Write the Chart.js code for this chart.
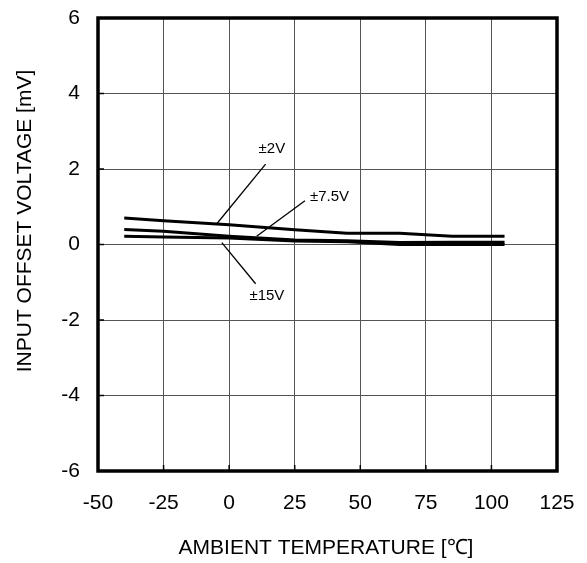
<!DOCTYPE html>
<html>
<head>
<meta charset="utf-8">
<script src="https://cdn.jsdelivr.net/npm/chart.js@4"></script>
<style>
  html, body { margin: 0; padding: 0; background: #fff; }
  canvas { display: block; }
</style>
</head>
<body>
<canvas id="c" width="587" height="563"></canvas>
<script>
// Data
const temperatures = [-40, -25, 0, 25, 45, 65, 85, 105];
const v2  = [0.70, 0.63, 0.52, 0.39, 0.30, 0.30, 0.22, 0.22];
const v75 = [0.40, 0.35, 0.22, 0.12, 0.10, 0.05, 0.06, 0.06];
const v15 = [0.22, 0.20, 0.17, 0.09, 0.07, 0.00, 0.00, 0.00];
const seriesNames = ['±2V', '±7.5V', '±15V'];
const xTicks = [-50, -25, 0, 25, 50, 75, 100, 125];
const yTicks = [-6, -4, -2, 0, 2, 4, 6];
const xTitle = 'AMBIENT TEMPERATURE [℃]';
const yTitle = 'INPUT OFFSET VOLTAGE [mV]';

// Callout labels in data units
const calloutText = ['±2V', '±7.5V', '±15V'];
const calloutTextX = [16.3, 30.8, 14.4];
const calloutTextY = [2.54, 1.27, -1.35];
const leaderX1 = [-4.7, 10.5, -2.8];
const leaderY1 = [0.55, 0.22, 0.05];
const leaderX2 = [13.9, 28.9, 10.1];
const leaderY2 = [2.13, 1.16, -1.04];
const calloutAlign = ['center', 'left', 'center'];

const FONT = '"Liberation Sans", Arial, Helvetica, sans-serif';

function pts(vals) { return temperatures.map((t, i) => ({x: t, y: vals[i]})); }

const framePlugin = {
  id: 'frame',
  afterDatasetsDraw(chart) {
    const {ctx, chartArea: a, scales} = chart;
    const xs = scales.x, ys = scales.y;
    ctx.save();
    ctx.strokeStyle = '#000';
    ctx.lineWidth = 1.3;
    ctx.fillStyle = '#000';
    ctx.font = '15px ' + FONT;
    ctx.textBaseline = 'middle';
    for (let i = 0; i < calloutText.length; i++) {
      ctx.beginPath();
      ctx.moveTo(xs.getPixelForValue(leaderX1[i]), ys.getPixelForValue(leaderY1[i]));
      ctx.lineTo(xs.getPixelForValue(leaderX2[i]), ys.getPixelForValue(leaderY2[i]));
      ctx.stroke();
      ctx.textAlign = calloutAlign[i];
      ctx.fillText(calloutText[i], xs.getPixelForValue(calloutTextX[i]), ys.getPixelForValue(calloutTextY[i]));
    }
    ctx.lineWidth = 3.5;
    ctx.strokeStyle = '#000';
    ctx.strokeRect(a.left, a.top, a.right - a.left, a.bottom - a.top);
    ctx.lineWidth = 1.5;
    yTicks.forEach(v => {
      const y = ys.getPixelForValue(v);
      ctx.beginPath(); ctx.moveTo(a.left, y); ctx.lineTo(a.left + 6, y); ctx.stroke();
    });
    xTicks.forEach(v => {
      const x = xs.getPixelForValue(v);
      ctx.beginPath(); ctx.moveTo(x, a.bottom); ctx.lineTo(x, a.bottom - 6); ctx.stroke();
    });
    ctx.font = '21px ' + FONT;
    ctx.textAlign = 'center';
    ctx.textBaseline = 'middle';
    ctx.fillText(xTitle, 326, 548);
    ctx.translate(25, 221);
    ctx.rotate(-Math.PI / 2);
    ctx.fillText(yTitle, 0, 0);
    ctx.restore();
  }
};

new Chart(document.getElementById('c'), {
  type: 'line',
  data: {
    datasets: [
      {label: seriesNames[0], data: pts(v2)},
      {label: seriesNames[1], data: pts(v75)},
      {label: seriesNames[2], data: pts(v15)}
    ].map(d => Object.assign(d, {
      borderColor: '#000', backgroundColor: '#000', borderWidth: 3,
      pointRadius: 0, tension: 0, fill: false
    }))
  },
  options: {
    responsive: false,
    animation: false,
    devicePixelRatio: 1,
    layout: {padding: {top: 18, right: 30, left: 0, bottom: 0}},
    plugins: {legend: {display: false}, tooltip: {enabled: false}},
    scales: {
      x: {
        type: 'linear', min: -50, max: 125,
        afterBuildTicks(s) { s.ticks = xTicks.map(v => ({value: v})); },
        afterFit(s) { s.height = 92; s.paddingLeft = 0; s.paddingRight = 0; },
        grid: {color: '#555', lineWidth: 1, drawTicks: false},
        border: {display: false},
        ticks: {color: '#000', padding: 20, font: {family: FONT, size: 21}, maxRotation: 0}
      },
      y: {
        type: 'linear', min: -6, max: 6,
        afterBuildTicks(s) { s.ticks = yTicks.map(v => ({value: v})); },
        afterFit(s) { s.width = 98; s.paddingTop = 0; s.paddingBottom = 0; },
        grid: {color: '#555', lineWidth: 1, drawTicks: false},
        border: {display: false},
        ticks: {color: '#000', padding: 18, font: {family: FONT, size: 21}}
      }
    }
  },
  plugins: [framePlugin]
});
</script>
</body>
</html>
